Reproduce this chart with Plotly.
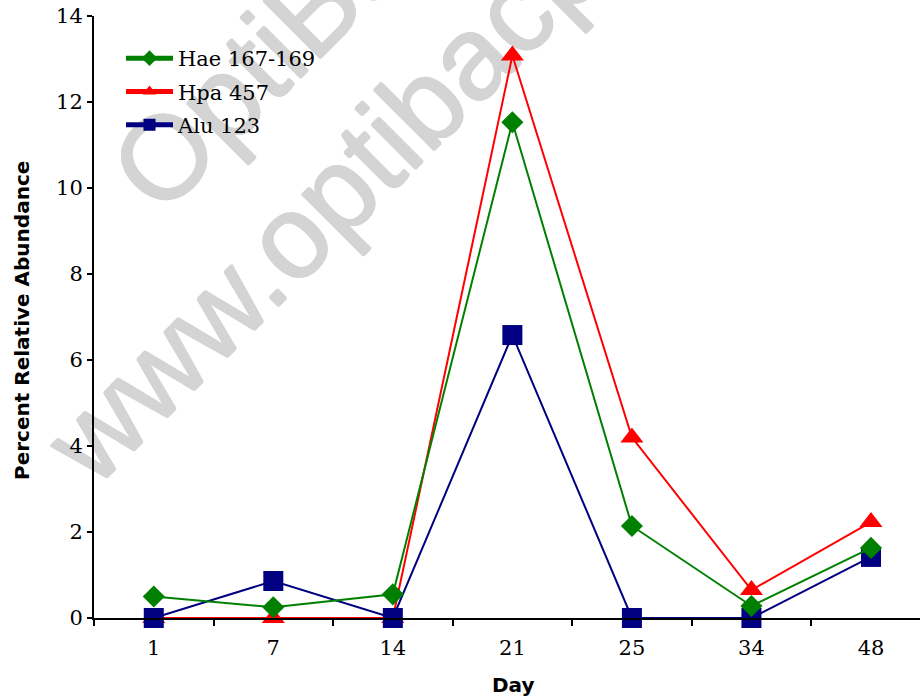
import plotly.graph_objects as go

days = ["1", "7", "14", "21", "25", "34", "48"]
hae = [0.5, 0.25, 0.55, 11.53, 2.14, 0.28, 1.63]
hpa = [0.0, 0.0, 0.0, 13.08, 4.2, 0.65, 2.23]
alu = [0.0, 0.86, 0.0, 6.58, 0.0, 0.0, 1.42]
y_ticks = [0, 2, 4, 6, 8, 10, 12, 14]

W, H = 920, 696
L, R, T, B = 94, 0, 16, 78
PW, PH = W - L - R, H - T - B


def px(x):
    return (x - L) / PW


def py(y):
    return (H - B - y) / PH


serif = "DejaVu Serif"
sans = "DejaVu Sans"

fig = go.Figure()
fig.add_trace(go.Scatter(x=days, y=hpa, name="Hpa 457", mode="lines+markers",
                         line=dict(color="#FF0000", width=2),
                         marker=dict(symbol="triangle-up", size=20, color="#FF0000"),
                         cliponaxis=False, legendrank=2, legendgroup="b"))
fig.add_trace(go.Scatter(x=days, y=alu, name="Alu 123", mode="lines+markers",
                         line=dict(color="#000080", width=2),
                         marker=dict(symbol="square", size=20, color="#000080"),
                         cliponaxis=False, legendrank=3, legendgroup="c"))
fig.add_trace(go.Scatter(x=days, y=hae, name="Hae 167-169", mode="lines+markers",
                         line=dict(color="#008000", width=2),
                         marker=dict(symbol="diamond", size=17, color="#008000"),
                         cliponaxis=False, legendrank=1, legendgroup="a"))

wm_col = "#d4d4d4"
wm_shadow = ", ".join(f"{dx}px {dy}px 0 {wm_col}" for dx, dy in
                      [(1, 0), (-1, 0), (0, 1), (0, -1)])
wm_font = dict(family="Liberation Sans", size=118, color=wm_col, shadow=wm_shadow)
shapes = []
for text, cx, cy in [("OptiBac Probiotics", 467, -162),
                     ("www.optibacprobiotics.co.uk", 582, -71)]:
    shapes.append(dict(type="rect", xref="paper", yref="paper",
                       x0=px(cx) - 0.002, x1=px(cx) + 0.002,
                       y0=py(cy) - 0.002, y1=py(cy) + 0.002,
                       line=dict(width=0), fillcolor="rgba(0,0,0,0)", layer="below",
                       label=dict(text=text, textangle=-45, font=wm_font,
                                  textposition="middle center")))

fig.update_layout(
    width=W, height=H,
    margin=dict(l=L, r=R, t=T, b=B),
    paper_bgcolor="white", plot_bgcolor="rgba(0,0,0,0)",
    showlegend=True,
    legend=dict(x=px(121), y=py(38), xanchor="left", yanchor="top",
                font=dict(family=serif, size=21, color="black"),
                bgcolor="rgba(0,0,0,0)", tracegroupgap=3, itemwidth=47,
                itemsizing="constant"),
    shapes=shapes,
    annotations=[
        dict(text="Day", x=px(513), y=py(685), xref="paper", yref="paper",
             showarrow=False, xanchor="center", yanchor="middle",
             font=dict(family=sans, size=20, color="black", weight="bold")),
        dict(text="Percent Relative Abundance", x=px(22), y=py(321),
             xref="paper", yref="paper", showarrow=False, textangle=-90,
             xanchor="center", yanchor="middle",
             font=dict(family=sans, size=20, color="black", weight="bold")),
    ],
)
fig.update_xaxes(type="category", range=[-0.5, 6.41], showgrid=False,
                 showline=True, linecolor="black", linewidth=2,
                 ticks="outside", tickson="boundaries", ticklen=6, tickwidth=1.5,
                 tickcolor="black", ticklabelstandoff=10,
                 tickfont=dict(family=serif, size=21, color="black"), zeroline=False)
fig.update_yaxes(range=[0, 14], tickvals=y_ticks, showgrid=False,
                 showline=True, linecolor="black", linewidth=2,
                 ticks="outside", ticklen=5, tickwidth=1.5, tickcolor="black",
                 tickfont=dict(family=serif, size=21, color="black"), zeroline=False)

fig.write_html("out.html")
